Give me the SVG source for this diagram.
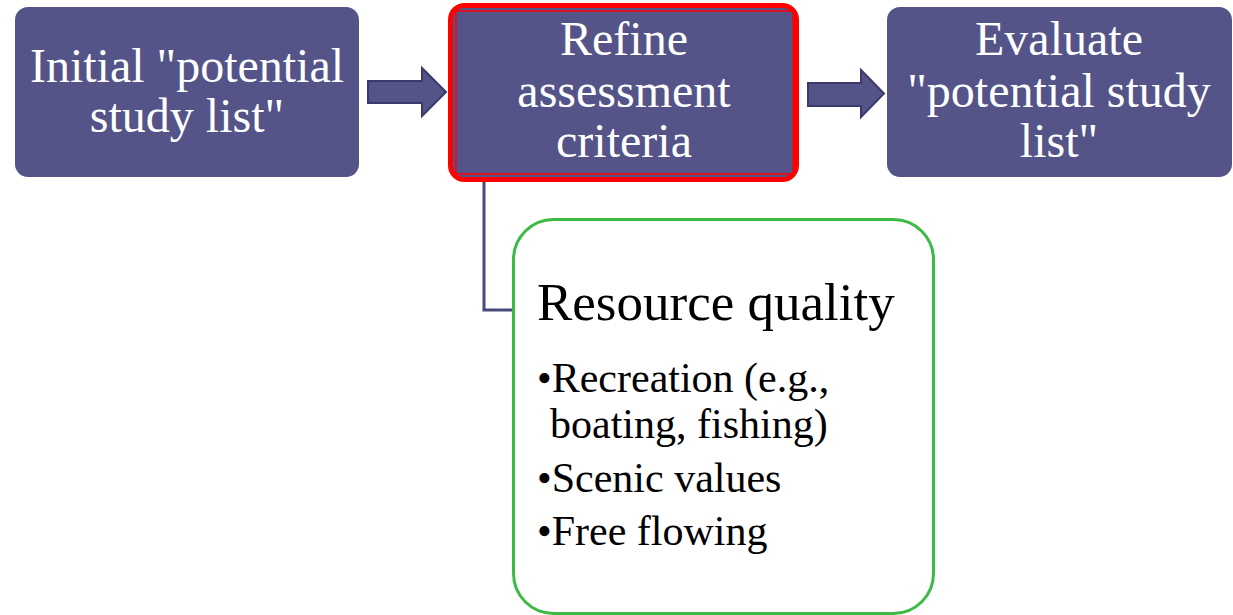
<svg xmlns="http://www.w3.org/2000/svg" width="1233" height="615" viewBox="0 0 1233 615">
<style>
.box{fill:#545489;}
.wt{font-family:"Liberation Serif","Times New Roman",serif;font-size:48px;fill:#ffffff;text-anchor:middle;}
.bt{font-family:"Liberation Serif","Times New Roman",serif;fill:#000000;}
.arr{fill:#545489;stroke:#3b3a68;stroke-width:2;stroke-linejoin:miter;}
.conn{fill:none;stroke:#4a4a7a;stroke-width:3;}
</style>
<rect width="1233" height="615" fill="#ffffff"/>
<g id="connectors">
<polygon class="arr" points="368,81 422,81 422,68 446,92 422,116 422,103 368,103"/>
<polygon class="arr" points="808,83 861,83 861,70 884,93.5 861,117 861,106 808,106"/>
<path class="conn" d="M484,182 V310 H518"/>
</g>
<g id="node-initial">
<rect class="box" x="15" y="7" width="344" height="170" rx="13"/>
<text class="wt" x="187" y="82">Initial "potential</text>
<text class="wt" x="187" y="132">study list"</text>
</g>
<g id="node-refine">
<rect x="450.5" y="5.5" width="346" height="174" rx="14" fill="#545489" stroke="#ff0000" stroke-width="5"/>
<rect x="456" y="11" width="337" height="163" fill="none" stroke="#ff0000" stroke-width="1.5"/>
<text class="wt" x="624" y="55">Refine</text>
<text class="wt" x="624" y="107">assessment</text>
<text class="wt" x="624" y="157">criteria</text>
</g>
<g id="node-evaluate">
<rect class="box" x="887" y="7" width="345" height="170" rx="13"/>
<text class="wt" x="1059" y="55">Evaluate</text>
<text class="wt" x="1059" y="107">"potential study</text>
<text class="wt" x="1059" y="157">list"</text>
</g>
<g id="node-resource">
<rect x="513.5" y="219.5" width="420" height="394" rx="40" fill="#ffffff" stroke="#3cba45" stroke-width="3"/>
<text class="bt" x="537" y="320" font-size="53">Resource quality</text>
<text class="bt" x="537" y="392" font-size="42">•Recreation (e.g.,</text>
<text class="bt" x="550" y="438" font-size="42">boating, fishing)</text>
<text class="bt" x="537" y="492" font-size="42">•Scenic values</text>
<text class="bt" x="537" y="545" font-size="42">•Free flowing</text>
</g>
</svg>
